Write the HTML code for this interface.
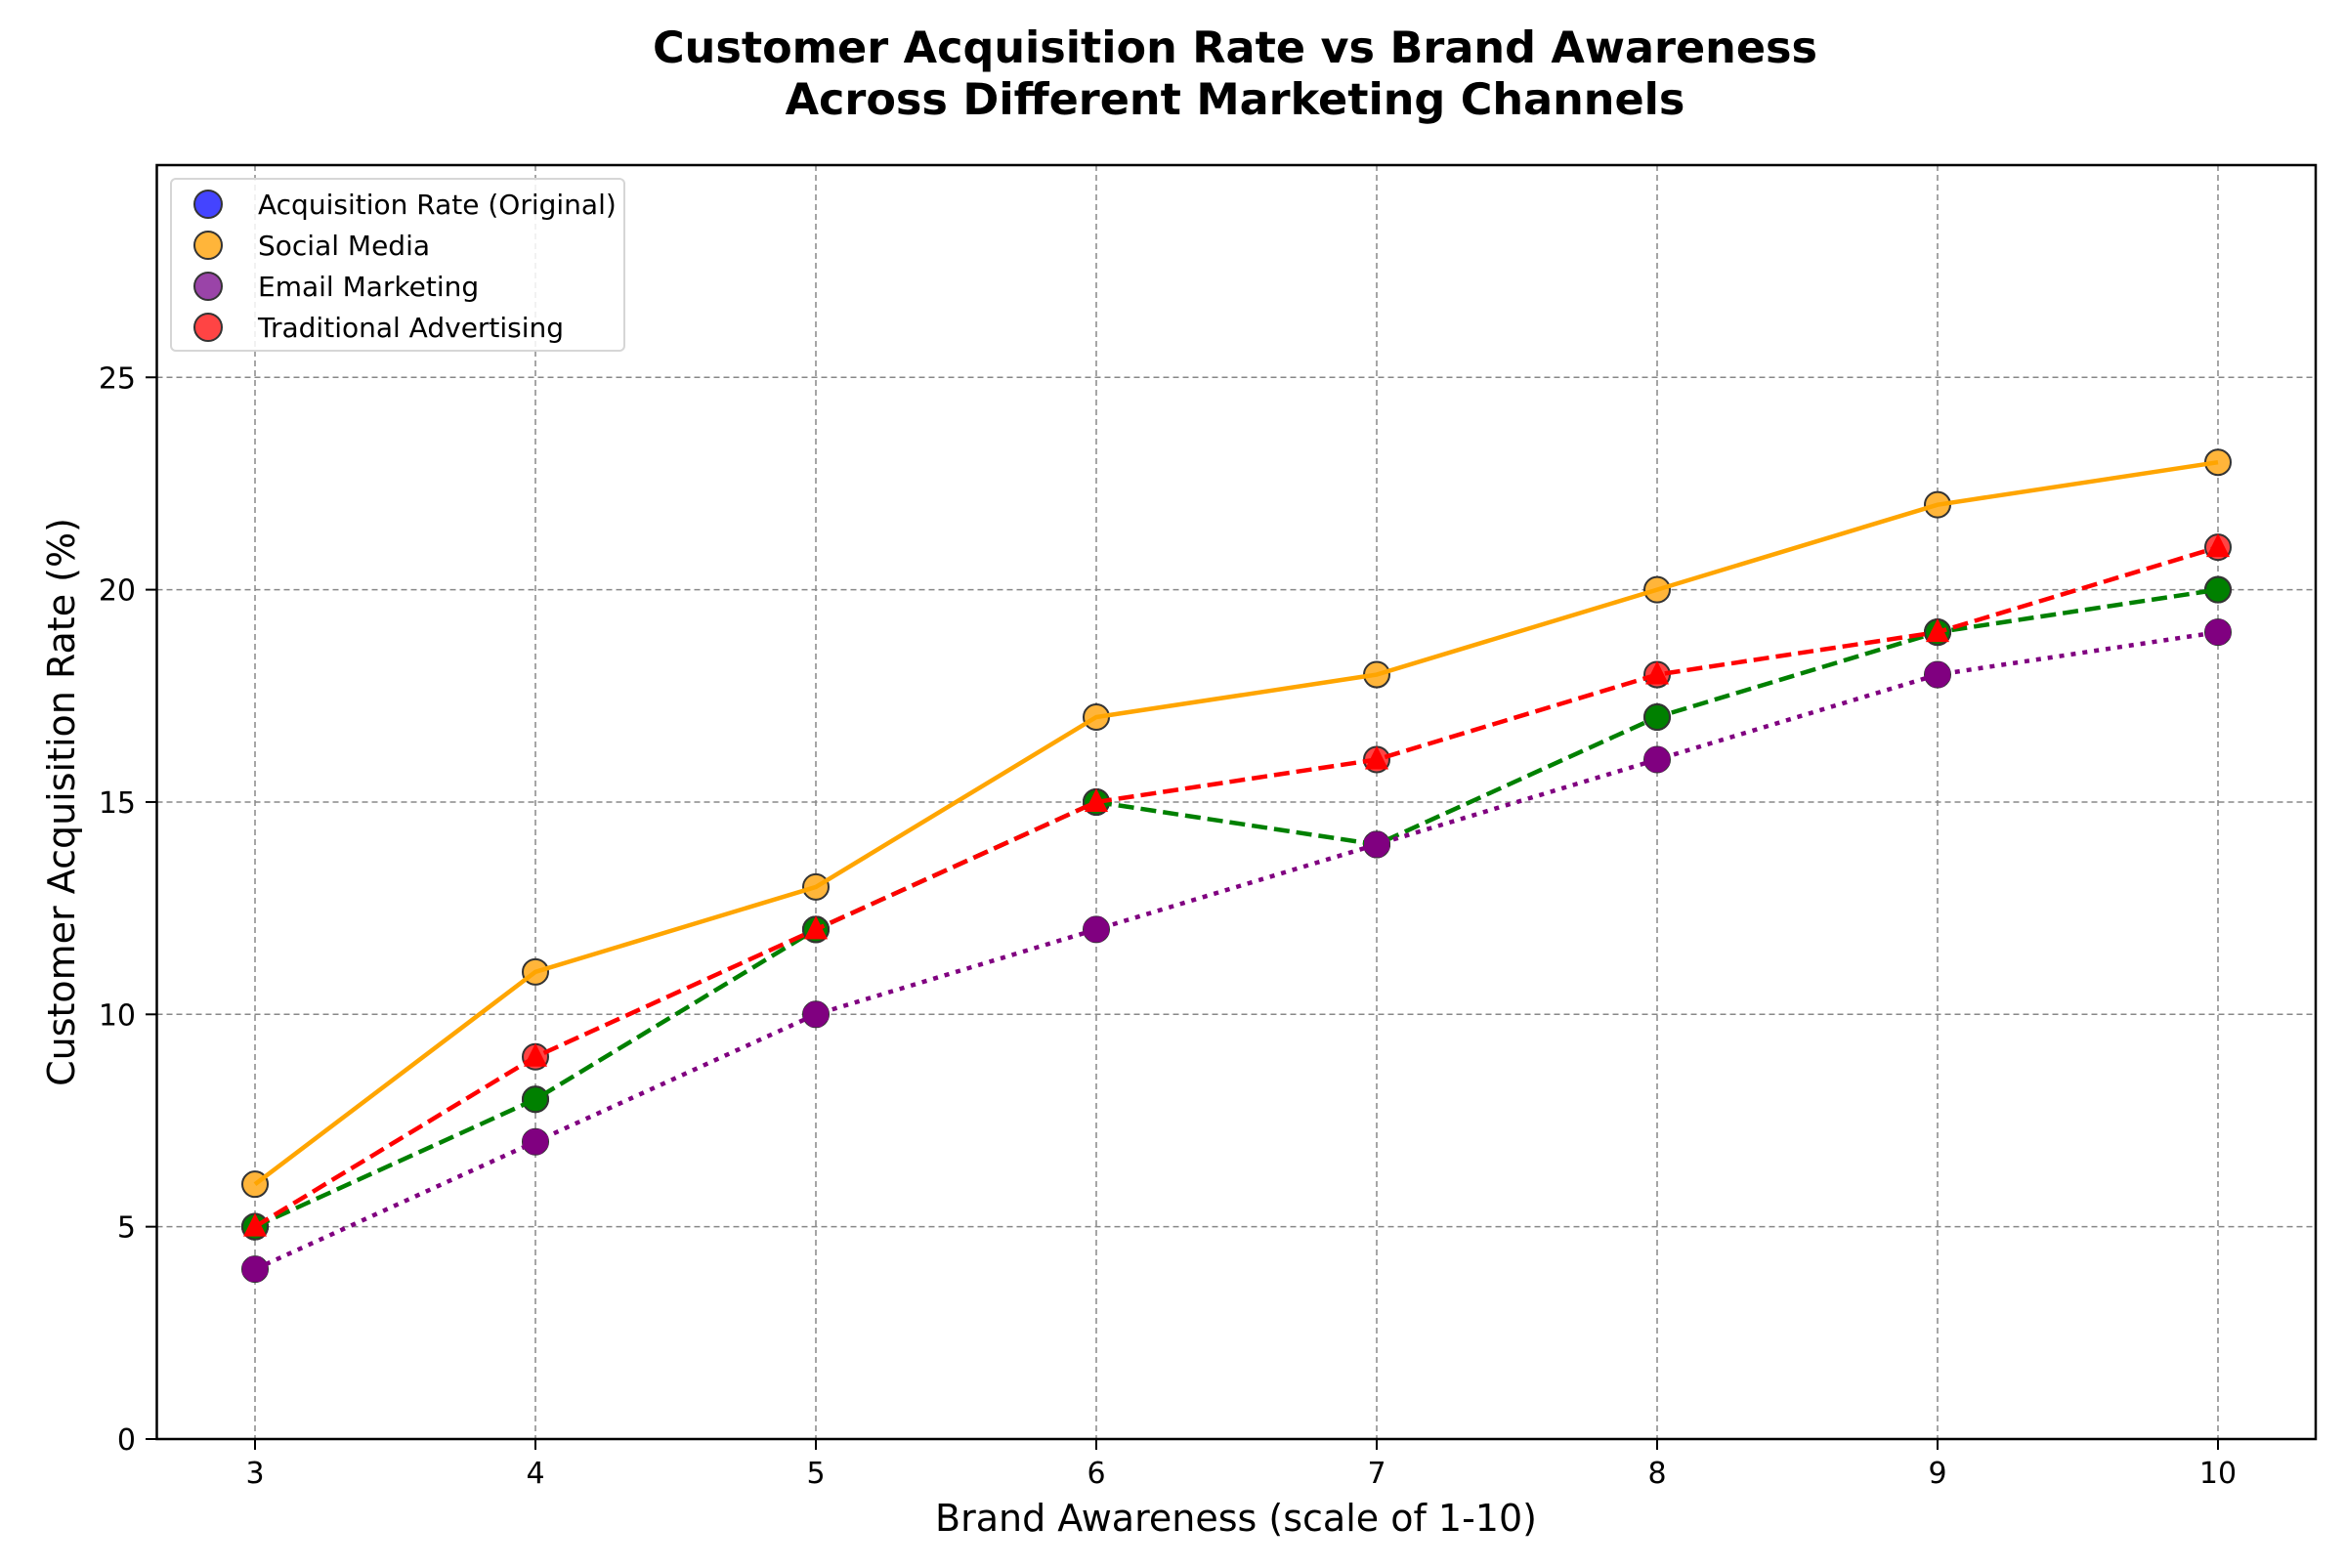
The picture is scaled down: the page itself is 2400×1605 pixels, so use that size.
<!DOCTYPE html>
<html><head><meta charset="utf-8"><style>
body{margin:0;background:#fff;}
svg text{font-family:"DejaVu Sans","Liberation Sans",sans-serif;}
</style></head><body>
<svg id="chart" width="2400" height="1600" viewBox="0 0 2400 1600" xmlns="http://www.w3.org/2000/svg">
<rect width="2400" height="1600" fill="#fff"/>
<text x="1264" y="64" text-anchor="middle" font-size="44.5" font-weight="bold">Customer Acquisition Rate vs Brand Awareness</text>
<text x="1264" y="117" text-anchor="middle" font-size="44.5" font-weight="bold">Across Different Marketing Channels</text>
<g id="grid"></g>
<g id="plot"></g>
<rect x="160.5" y="169" width="2209.5" height="1304" fill="none" stroke="#000" stroke-width="2.5"/>
<g id="ticks"></g>
<text x="1265" y="1567" text-anchor="middle" font-size="38">Brand Awareness (scale of 1-10)</text>
<text transform="translate(76,821) rotate(-90)" text-anchor="middle" font-size="38">Customer Acquisition Rate (%)</text>
<g>
<rect x="175" y="183" width="464" height="176" rx="5" fill="#fff" fill-opacity="0.85" stroke="#d6d6d6" stroke-width="2"/>
<g><circle cx="213" cy="209" r="14" fill="#4444ff" stroke="#333" stroke-width="2"/><text x="264" y="219" font-size="28">Acquisition Rate (Original)</text></g>
<g><circle cx="213" cy="251" r="14" fill="#ffb53a" stroke="#333" stroke-width="2"/><text x="264" y="261" font-size="28">Social Media</text></g>
<g><circle cx="213" cy="293" r="14" fill="#9a44a8" stroke="#333" stroke-width="2"/><text x="264" y="303" font-size="28">Email Marketing</text></g>
<g><circle cx="213" cy="335" r="14" fill="#ff4444" stroke="#333" stroke-width="2"/><text x="264" y="345" font-size="28">Traditional Advertising</text></g>
</g>
</svg>
<script>
const awareness=[3,4,5,6,7,8,9,10];
const original=[5,8,12,15,14,17,19,20];
const social=[6,11,13,17,18,20,22,23];
const email=[4,7,10,12,14,16,18,19];
const traditional=[5,9,12,15,16,18,19,21];
const xTicks=[3,4,5,6,7,8,9,10];
const yTicks=[0,5,10,15,20,25];
const NS='http://www.w3.org/2000/svg';
const X=v=>261+(v-3)*287;
const Y=v=>1473-v*43.47;
function mk(tag,at,parent){const e=document.createElementNS(NS,tag);for(const k in at)e.setAttribute(k,at[k]);parent.appendChild(e);return e;}
const grid=document.getElementById('grid'),plot=document.getElementById('plot'),ticks=document.getElementById('ticks');
xTicks.forEach(t=>{
 const g=mk('line',{x1:X(t),x2:X(t),y1:169,y2:1473,stroke:'#888','stroke-width':1.5,'stroke-dasharray':'6,4'},grid);
 
 const tk=mk('line',{x1:X(t),x2:X(t),y1:1473,y2:1484,stroke:'#000','stroke-width':2},ticks);
 
 const tl=mk('text',{x:X(t),y:1518,'text-anchor':'middle','font-size':30},ticks);tl.textContent=t;
 
});
yTicks.forEach(t=>{
 if(t>0){const g=mk('line',{x1:160.5,x2:2370,y1:Y(t),y2:Y(t),stroke:'#888','stroke-width':1.5,'stroke-dasharray':'6,4'},grid);
 }
 const tk=mk('line',{x1:149,x2:160.5,y1:Y(t),y2:Y(t),stroke:'#000','stroke-width':2},ticks);
 
 const tl=mk('text',{x:139,y:Y(t)+11,'text-anchor':'end','font-size':30},ticks);tl.textContent=t;
 
});
function scatter(vals,fill,name){vals.forEach((v,i)=>{const c=mk('circle',{cx:X(awareness[i]),cy:Y(v),r:13,fill:fill,stroke:'#333','stroke-width':2},plot);
 });}
function line(vals,color,dash,name){const p=mk('polyline',{points:vals.map((v,i)=>X(awareness[i])+','+Y(v)).join(' '),fill:'none',stroke:color,'stroke-width':4.5,'stroke-dasharray':dash},plot);
 }
scatter(original,'#4444ff','original');
scatter(social,'#ffb53a','social-media');
scatter(email,'#9a44a8','email-marketing');
scatter(traditional,'#ff4444','traditional-advertising');
line(social,'orange','','social-media');
original.forEach((v,i)=>{const c=mk('circle',{cx:X(awareness[i]),cy:Y(v),r:13,fill:'green',stroke:'#333','stroke-width':2},plot);
 });
line(original,'green','16,7','original');
line(email,'purple','5,7','email-marketing');
email.forEach((v,i)=>{const cx=X(awareness[i]),cy=Y(v),r=14;let pts=[];for(let k=0;k<8;k++){const a=Math.PI/8+k*Math.PI/4;pts.push((cx+r*Math.cos(a))+','+(cy+r*Math.sin(a)));}
 const o=mk('polygon',{points:pts.join(' '),fill:'purple'},plot);
 });
line(traditional,'red','16,7','traditional-advertising');
traditional.forEach((v,i)=>{const cx=X(awareness[i]),cy=Y(v);
 const t=mk('polygon',{points:`${cx},${cy-14} ${cx+12},${cy+10} ${cx-12},${cy+10}`,fill:'red'},plot);
 });
</script>
</body></html>
